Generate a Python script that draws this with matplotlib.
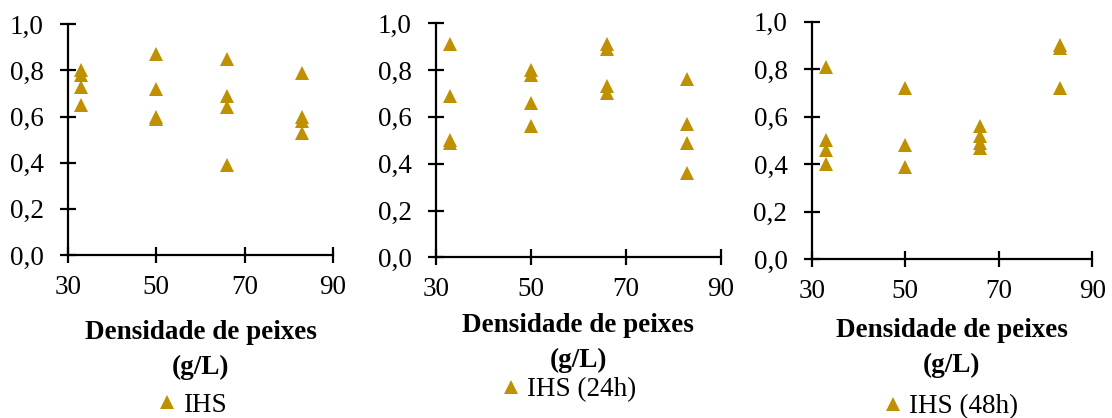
import matplotlib
matplotlib.use("Agg")
from matplotlib import pyplot as plt

# densidade de peixes (g/L) e IHS
dens_0h = [33, 33, 33, 33, 50, 50, 50, 50, 66, 66, 66, 66, 83, 83, 83, 83]
ihs_0h = [0.80, 0.78, 0.73, 0.65, 0.87, 0.72, 0.60, 0.59,
          0.85, 0.69, 0.64, 0.39, 0.79, 0.60, 0.58, 0.53]

dens_24h = [33, 33, 33, 33, 50, 50, 50, 50, 66, 66, 66, 66, 83, 83, 83, 83]
ihs_24h = [0.91, 0.69, 0.50, 0.49, 0.80, 0.78, 0.66, 0.56,
           0.91, 0.89, 0.73, 0.70, 0.76, 0.57, 0.49, 0.36]

dens_48h = [33, 33, 33, 33, 50, 50, 50, 66, 66, 66, 66, 83, 83, 83]
ihs_48h = [0.81, 0.50, 0.46, 0.40, 0.72, 0.48, 0.39,
           0.56, 0.52, 0.49, 0.47, 0.90, 0.89, 0.72]

series_names = ["IHS", "IHS (24h)", "IHS (48h)"]
xticks = [30, 50, 70, 90]
yticks = [0.0, 0.2, 0.4, 0.6, 0.8, 1.0]
ytick_labels = ["0,0", "0,2", "0,4", "0,6", "0,8", "1,0"]

W, H = 1112, 418
cor = "#BF9000"
plt.rcParams["font.family"] = ["Liberation Serif", "DejaVu Serif"]

fig = plt.figure(figsize=(W / 100, H / 100), dpi=100)

# (esq, dir, topo, base) em pixels, centro do xlabel, posicao da legenda
paineis = [
    (68, 333, 24.3, 255, 350, 405, 168),
    (436, 720.7, 23.3, 257.3, 343, 390, 512),
    (811.7, 1092.3, 21.7, 259.3, 348, 407, 894),
]
dados = [(dens_0h, ihs_0h), (dens_24h, ihs_24h), (dens_48h, ihs_48h)]

for i, (l, r, t, b, ylab, yleg, xleg) in enumerate(paineis):
    ax = fig.add_axes([l / W, (H - b) / H, (r - l) / W, (b - t) / H])
    x, y = dados[i]
    ax.plot(x, y, linestyle="none", marker="^", ms=10.5, color=cor,
            markeredgewidth=0, label=series_names[i], clip_on=False)
    ax.set_xlim(30, 90)
    ax.set_ylim(0, 1.0)
    ax.set_xticks(xticks)
    ax.set_yticks(yticks)
    ax.set_yticklabels(ytick_labels)
    for s in ["top", "right"]:
        ax.spines[s].set_visible(False)
    for s in ["left", "bottom"]:
        ax.spines[s].set_linewidth(1.6)
    ax.tick_params(direction="inout", length=11, width=1.6, labelsize=19.5)
    ax.tick_params(axis="y", pad=12)
    ax.tick_params(axis="x", pad=9)

    fig.text((l + r) / 2 / W, 1 - ylab / H, "Densidade de peixes\n(g/L)",
             ha="center", va="center", fontsize=19.5, fontweight="bold",
             linespacing=1.55)
    ax.legend(loc="center left", bbox_to_anchor=((xleg - 12) / W, 1 - yleg / H),
              bbox_transform=fig.transFigure, frameon=False, fontsize=19.5,
              handlelength=0.8, handletextpad=0.2, borderpad=0, borderaxespad=0,
              markerscale=1.0)

fig.savefig("out.png", dpi=100)
